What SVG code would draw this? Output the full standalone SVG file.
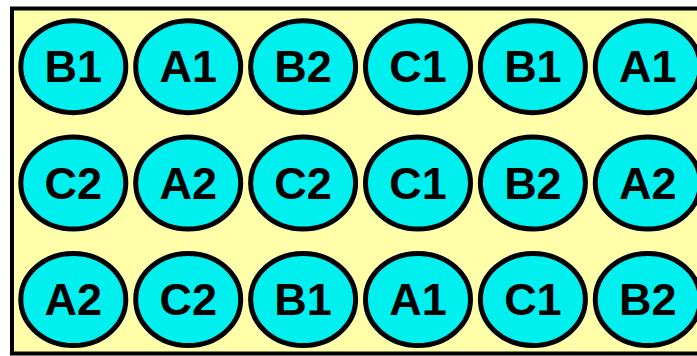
<svg xmlns="http://www.w3.org/2000/svg" width="697" height="356" viewBox="0 0 697 356">
<style>
.bg{fill:#FFFFAA;stroke:#000;stroke-width:4}
.n ellipse{fill:#00F0F0;stroke:#000;stroke-width:5}
.n text{font-family:"Liberation Sans",Arial,sans-serif;font-weight:bold;font-size:45px;fill:#000;text-anchor:middle;dominant-baseline:central}
</style>
<rect class="bg" x="12" y="8.5" width="700" height="345"/>
<g id="connectors"/>
<g id="n1" class="n"><ellipse cx="73.3" cy="66.7" rx="52.5" ry="46"/><text x="73.3" y="66.7">B1</text></g>
<g id="n2" class="n"><ellipse cx="188.2" cy="66.7" rx="52.5" ry="46"/><text x="188.2" y="66.7">A1</text></g>
<g id="n3" class="n"><ellipse cx="303.1" cy="66.7" rx="52.5" ry="46"/><text x="303.1" y="66.7">B2</text></g>
<g id="n4" class="n"><ellipse cx="418" cy="66.7" rx="52.5" ry="46"/><text x="418" y="66.7">C1</text></g>
<g id="n5" class="n"><ellipse cx="532.9" cy="66.7" rx="52.5" ry="46"/><text x="532.9" y="66.7">B1</text></g>
<g id="n6" class="n"><ellipse cx="647.8" cy="66.7" rx="52.5" ry="46"/><text x="647.8" y="66.7">A1</text></g>
<g id="n7" class="n"><ellipse cx="73.3" cy="183" rx="52.5" ry="46"/><text x="73.3" y="183">C2</text></g>
<g id="n8" class="n"><ellipse cx="188.2" cy="183" rx="52.5" ry="46"/><text x="188.2" y="183">A2</text></g>
<g id="n9" class="n"><ellipse cx="303.1" cy="183" rx="52.5" ry="46"/><text x="303.1" y="183">C2</text></g>
<g id="n10" class="n"><ellipse cx="418" cy="183" rx="52.5" ry="46"/><text x="418" y="183">C1</text></g>
<g id="n11" class="n"><ellipse cx="532.9" cy="183" rx="52.5" ry="46"/><text x="532.9" y="183">B2</text></g>
<g id="n12" class="n"><ellipse cx="647.8" cy="183" rx="52.5" ry="46"/><text x="647.8" y="183">A2</text></g>
<g id="n13" class="n"><ellipse cx="73.3" cy="299.5" rx="52.5" ry="46"/><text x="73.3" y="299.5">A2</text></g>
<g id="n14" class="n"><ellipse cx="188.2" cy="299.5" rx="52.5" ry="46"/><text x="188.2" y="299.5">C2</text></g>
<g id="n15" class="n"><ellipse cx="303.1" cy="299.5" rx="52.5" ry="46"/><text x="303.1" y="299.5">B1</text></g>
<g id="n16" class="n"><ellipse cx="418" cy="299.5" rx="52.5" ry="46"/><text x="418" y="299.5">A1</text></g>
<g id="n17" class="n"><ellipse cx="532.9" cy="299.5" rx="52.5" ry="46"/><text x="532.9" y="299.5">C1</text></g>
<g id="n18" class="n"><ellipse cx="647.8" cy="299.5" rx="52.5" ry="46"/><text x="647.8" y="299.5">B2</text></g>
</svg>
